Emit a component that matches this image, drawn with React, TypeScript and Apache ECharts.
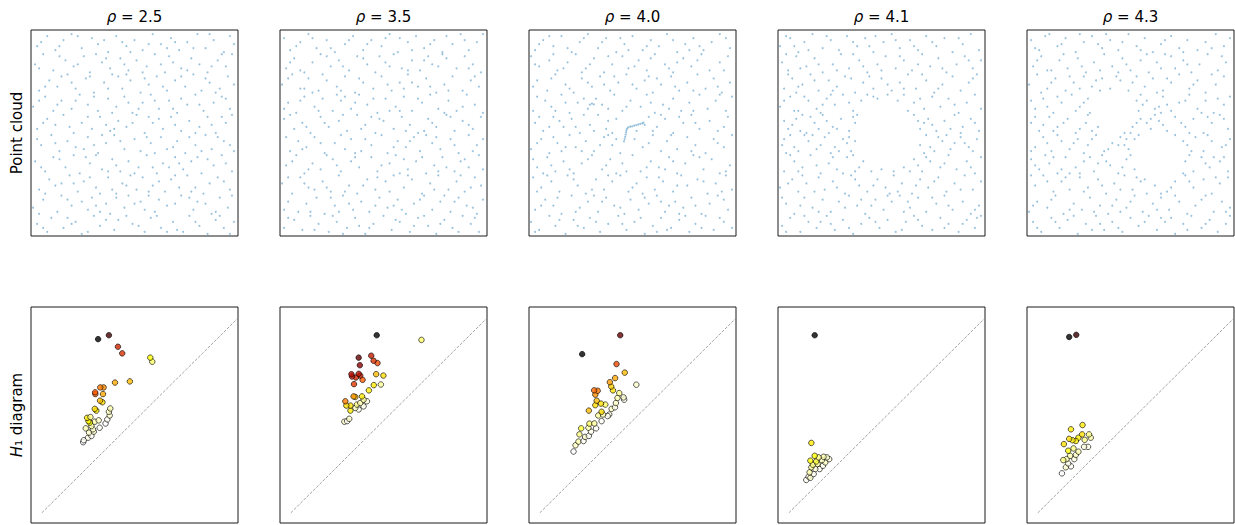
import React, { useEffect, useRef } from 'react';
import * as echarts from 'echarts';

const rhoValues = ['2.5', '3.5', '4.0', '4.1', '4.3'];

// Point clouds (coordinates 0-100)
const cloud25 = [
[2,5],[7,1],[9,8],[15,3],[21,6],[24,0],[30,9],[33,4],[40,2],[42,7],[49,5],[55,1],[58,8],[63,3],[69,6],[71,2],[77,9],[82,4],[86,0],[90,7],[94,3],[99,6],[46,9],[17,8],[74,1],
[0,13],[5,17],[12,11],[14,19],[19,14],[27,12],[29,18],[36,15],[38,10],[45,13],[47,19],[53,16],[60,11],[62,17],[66,14],[73,19],[79,12],[81,16],[88,10],[92,18],[96,13],[57,19],[24,16],[33,11],[85,15],
[3,22],[8,27],[11,24],[18,29],[22,21],[25,26],[31,23],[37,28],[41,20],[44,25],[51,22],[54,28],[59,24],[65,21],[68,27],[72,23],[76,29],[84,20],[87,25],[91,28],[97,22],[14,25],[48,29],[62,26],[80,23],
[1,36],[6,31],[10,38],[16,33],[20,39],[23,30],[28,35],[34,32],[39,37],[43,31],[47,36],[52,33],[56,39],[61,30],[64,35],[70,38],[74,32],[78,36],[83,30],[89,34],[93,39],[98,31],[26,38],[67,33],[86,37],
[4,44],[9,49],[13,41],[17,46],[21,43],[27,48],[32,40],[36,45],[40,49],[45,42],[50,47],[53,41],[58,45],[63,48],[66,42],[71,46],[75,40],[80,44],[85,49],[88,42],[94,46],[99,41],[30,44],[60,40],[77,48],
[2,52],[7,57],[11,54],[15,59],[20,50],[24,55],[29,52],[33,58],[38,51],[42,56],[46,53],[51,59],[55,50],[59,55],[64,52],[68,58],[73,51],[77,56],[82,53],[86,58],[90,50],[95,55],[98,59],[36,54],[62,57],
[0,63],[6,68],[10,61],[14,66],[19,62],[23,69],[27,64],[32,61],[37,67],[41,63],[45,68],[49,60],[54,65],[58,69],[62,62],[67,66],[71,60],[76,64],[80,69],[84,61],[89,65],[93,68],[97,62],[52,62],[73,67],
[3,71],[8,76],[12,73],[17,79],[21,72],[26,77],[30,70],[35,75],[39,79],[44,72],[48,76],[53,70],[57,74],[61,78],[66,71],[70,76],[75,73],[79,79],[83,71],[87,75],[92,72],[96,78],[99,74],[14,78],[42,78],
[1,84],[5,89],[10,81],[16,86],[20,83],[25,88],[28,80],[34,85],[38,82],[43,87],[47,81],[51,86],[56,83],[60,89],[65,80],[69,85],[73,82],[78,87],[82,84],[86,80],[91,86],[95,83],[98,89],[31,89],[63,84],
[2,93],[7,98],[11,91],[15,96],[19,99],[24,92],[29,97],[32,94],[37,90],[41,98],[46,93],[50,96],[54,91],[59,99],[63,94],[68,97],[72,91],[76,95],[81,99],[85,92],[89,96],[94,90],[97,98],[44,95],[66,92],
[5,3],[19,5],[36,7],[52,4],[66,1],[80,6],[92,9],[27,1],[61,9],[97,0],
[3,10],[17,17],[31,14],[41,18],[55,12],[70,15],[77,18],[90,11],[98,19],[50,15],
[6,20],[20,25],[28,28],[39,22],[57,21],[70,29],[78,21],[94,26],[46,24],[33,20],
[4,33],[13,37],[31,39],[41,34],[50,30],[59,33],[72,35],[81,38],[95,35],[37,31],
[2,47],[11,45],[25,42],[34,49],[43,46],[56,48],[69,43],[83,41],[91,48],[97,44],
[5,55],[18,53],[27,58],[40,52],[49,55],[57,58],[70,54],[80,50],[88,54],[93,58],
[3,66],[12,64],[21,66],[30,68],[39,60],[47,65],[60,66],[69,62],[82,64],[95,67],
[6,73],[19,75],[28,78],[37,72],[46,79],[55,77],[64,73],[73,78],[85,77],[90,70],
[3,82],[13,88],[22,84],[36,87],[45,84],[54,80],[67,88],[76,81],[88,83],[93,89],
[4,95],[13,93],[22,98],[35,96],[48,90],[57,94],[70,95],[79,92],[87,99],[99,94]
];

const cloud35 = [
[1,3],[6,7],[10,2],[14,9],[18,5],[23,1],[27,6],[32,3],[36,8],[41,0],[45,5],[50,9],[54,2],[58,6],[63,1],[67,8],[72,4],[76,0],[80,7],[84,3],[89,9],[93,5],[97,1],[38,4],[70,9],
[3,16],[8,11],[12,15],[17,18],[21,10],[26,14],[30,19],[35,12],[39,16],[43,11],[48,18],[52,13],[57,17],[61,10],[65,15],[70,19],[74,12],[78,16],[83,11],[87,18],[91,14],[96,10],[99,17],[55,14],[28,11],
[0,25],[5,20],[9,28],[13,23],[20,26],[24,21],[28,29],[33,24],[37,20],[42,27],[46,22],[51,26],[55,29],[60,23],[64,27],[69,20],[73,25],[77,29],[82,22],[86,26],[90,21],[95,28],[98,24],[16,22],[47,28],
[2,34],[7,39],[11,30],[15,35],[19,32],[25,37],[29,31],[34,36],[38,33],[44,38],[47,31],[53,35],[56,39],[62,32],[66,36],[71,30],[75,34],[79,38],[85,31],[88,36],[92,33],[97,39],[22,39],[60,37],[81,33],
[4,41],[8,46],[12,43],[16,48],[21,40],[26,45],[31,42],[34,47],[39,41],[44,44],[49,49],[52,40],[57,46],[61,43],[65,48],[68,41],[74,45],[78,42],[83,47],[87,40],[92,49],[96,44],[99,47],[36,40],[71,49],
[1,57],[6,52],[10,55],[14,50],[19,58],[23,53],[28,56],[32,51],[37,59],[41,54],[46,50],[50,56],[55,52],[59,58],[63,54],[67,50],[72,57],[76,53],[81,59],[85,51],[89,56],[94,52],[98,58],[44,58],[70,51],
[3,65],[7,60],[11,68],[16,63],[20,67],[25,61],[29,66],[34,62],[38,69],[42,64],[47,60],[51,67],[56,63],[60,68],[64,61],[69,65],[73,69],[77,62],[82,66],[86,61],[91,69],[95,64],[99,60],[31,68],[53,61],
[0,74],[5,79],[9,72],[13,77],[18,71],[22,76],[27,73],[31,78],[36,70],[40,75],[45,72],[49,78],[54,71],[58,75],[62,79],[67,73],[71,77],[76,70],[80,74],[84,78],[89,71],[93,76],[97,73],[15,70],[64,75],
[2,82],[6,87],[11,80],[15,85],[19,89],[24,83],[28,86],[33,81],[37,88],[42,84],[46,80],[51,85],[55,89],[59,82],[64,86],[68,81],[72,88],[77,83],[81,87],[86,82],[90,88],[94,84],[98,80],[48,88],[74,84],
[1,97],[4,91],[9,95],[13,99],[17,92],[22,96],[26,90],[31,94],[35,98],[40,91],[44,96],[49,93],[53,99],[57,90],[62,95],[66,98],[70,92],[75,96],[79,90],[84,94],[88,99],[92,91],[96,95],[99,99],[58,97],
[3,8],[16,2],[25,9],[43,3],[56,7],[65,4],[78,5],[87,1],[95,8],[30,0],
[1,12],[14,11],[24,18],[33,15],[46,14],[59,12],[68,17],[80,19],[94,13],[85,16],
[3,28],[11,25],[22,23],[31,21],[40,24],[53,21],[62,29],[75,22],[88,29],[93,23],
[5,36],[13,32],[27,34],[36,38],[49,34],[58,30],[69,38],[77,31],[90,37],[99,32],
[2,48],[10,42],[19,45],[29,49],[41,47],[55,43],[63,46],[76,48],[85,44],[94,41],
[4,59],[12,53],[21,55],[30,59],[39,52],[48,57],[61,51],[74,55],[83,58],[92,54],
[1,62],[9,66],[18,61],[27,69],[36,65],[45,67],[58,61],[67,67],[80,60],[89,63],
[3,77],[11,72],[20,79],[29,71],[38,77],[52,74],[60,72],[73,73],[82,71],[95,78],
[4,85],[9,81],[22,88],[30,83],[40,87],[53,83],[62,81],[70,86],[79,89],[92,82],
[7,93],[15,97],[24,92],[33,96],[42,94],[51,97],[64,91],[73,94],[81,98],[90,96]
];

const cloud40 = [
[0,6],[4,2],[9,9],[12,4],[17,0],[21,7],[26,3],[29,8],[34,1],[38,5],[43,9],[47,2],[51,6],[56,0],[60,4],[64,8],[69,3],[73,7],[78,1],[81,5],[86,9],[90,2],[95,6],[99,3],[62,1],
[2,12],[7,17],[11,14],[15,10],[20,19],[24,13],[28,16],[33,11],[37,18],[41,14],[46,10],[49,17],[53,12],[58,15],[62,19],[66,11],[71,16],[75,13],[79,18],[84,10],[88,15],[92,19],[97,12],[31,19],[68,14],
[1,28],[5,23],[10,26],[14,21],[18,29],[23,24],[27,20],[32,27],[36,22],[40,26],[44,29],[48,21],[52,25],[57,28],[61,22],[65,26],[70,21],[74,29],[77,24],[82,27],[87,20],[91,25],[96,29],[99,22],[55,20],
[3,33],[8,38],[12,31],[16,36],[21,30],[25,35],[30,39],[35,32],[39,37],[42,30],[50,39],[54,31],[59,36],[63,33],[68,38],[72,30],[76,35],[80,39],[85,32],[89,37],[93,30],[98,34],[45,35],[6,30],[66,32],
[0,42],[5,47],[9,40],[13,45],[19,49],[22,43],[27,46],[31,41],[36,48],[40,44],[44,40],[51,47],[55,43],[60,49],[64,41],[67,46],[72,42],[77,48],[81,44],[86,40],[90,47],[95,43],[99,49],[38,49],[15,41],
[2,55],[6,51],[11,58],[16,53],[20,57],[24,50],[29,54],[33,59],[37,52],[42,57],[52,51],[58,58],[62,53],[66,57],[70,50],[75,55],[79,59],[83,52],[88,56],[92,51],[97,58],[40,50],[26,59],[73,58],[60,51],
[1,61],[7,66],[10,63],[15,69],[19,60],[23,65],[28,62],[32,67],[35,64],[41,69],[45,61],[49,66],[54,63],[57,69],[61,60],[65,64],[70,67],[74,61],[78,65],[83,69],[87,62],[91,66],[96,61],[99,68],[29,64],[30,64.6],[31,64.2],
[3,76],[8,71],[12,79],[17,74],[21,70],[25,77],[30,73],[34,78],[39,71],[43,75],[47,79],[52,72],[56,76],[60,70],[64,74],[69,78],[73,71],[77,75],[82,79],[86,72],[90,77],[94,70],[98,75],[58,78],[36,74],
[0,88],[4,83],[9,86],[13,81],[18,85],[22,89],[27,82],[31,87],[36,80],[40,84],[45,88],[48,82],[53,86],[57,81],[61,89],[66,84],[70,80],[75,87],[79,83],[84,89],[88,81],[93,85],[97,88],[25,80],[72,85],
[2,91],[6,96],[11,93],[15,98],[20,90],[24,95],[28,99],[33,92],[37,97],[42,90],[46,94],[50,98],[55,91],[59,96],[63,93],[67,99],[72,90],[76,94],[80,97],[85,91],[89,95],[93,99],[98,92],[44,97],[78,91],
[2,1],[14,7],[23,4],[32,6],[45,5],[54,8],[67,2],[76,9],[84,3],[93,8],
[5,14],[13,18],[22,11],[35,16],[44,13],[56,18],[64,16],[73,10],[81,14],[95,17],
[3,21],[8,29],[21,27],[30,22],[38,29],[50,23],[63,28],[72,24],[85,26],[94,21],
[1,37],[10,34],[19,32],[28,37],[37,34],[47,31],[57,33],[70,36],[83,38],[96,31],
[3,45],[11,48],[17,43],[25,41],[34,44],[42,47],[58,45],[69,49],[79,41],[92,45],
[4,58],[9,53],[14,56],[22,53],[31,51],[38,56],[56,54],[64,59],[81,55],[95,53],
[3,68],[12,61],[17,65],[26,67],[38,62],[47,63],[59,65],[68,62],[80,61],[93,69],
[1,73],[10,77],[19,72],[28,75],[41,78],[50,74],[62,77],[71,73],[80,71],[92,73],
[2,84],[11,89],[16,82],[29,84],[38,88],[51,83],[59,87],[68,82],[82,86],[95,81],
[4,94],[9,98],[18,92],[26,97],[35,95],[48,91],[57,93],[70,96],[83,93],[96,97]
];

// The short dense curve in the middle of the rho = 4.0 cloud
const curve40 = [
[45.8,45.9],[46.1,47],[46.4,48.1],[46.6,49.2],[46.8,50.3],[47,51.3],[47.3,52.2],[47.9,52.8],[48.8,53.1],
[49.8,53.3],[50.8,53.6],[51.8,53.9],[52.8,54.2],[53.8,54.5],[54.8,54.8],[55.4,55.1]
];

const cloud41 = [
[1,4],[5,8],[10,1],[14,6],[18,3],[23,9],[27,2],[31,7],[36,0],[40,5],[44,8],[49,3],[53,7],[57,1],[62,6],[66,9],[70,4],[75,2],[79,8],[83,5],[88,1],[92,7],[96,3],[99,9],[20,6],
[3,15],[7,10],[12,18],[16,13],[21,17],[25,11],[29,16],[34,19],[38,14],[42,10],[47,17],[51,12],[55,16],[59,19],[64,13],[68,18],[72,11],[77,15],[81,19],[85,12],[90,16],[94,10],[98,14],[45,14],[61,11],
[0,23],[6,27],[9,21],[13,25],[19,28],[22,22],[26,26],[32,20],[35,29],[39,24],[43,21],[48,27],[52,23],[56,29],[60,25],[65,20],[69,27],[73,23],[78,28],[82,21],[86,25],[91,29],[95,22],[99,26],[54,20],
[2,31],[7,36],[11,33],[15,39],[20,30],[24,35],[28,32],[33,38],[37,31],[41,36],[45,31],[50,32],[56,31],[61,33],[66,37],[70,31],[74,36],[79,33],[83,39],[87,32],[92,36],[96,30],[99,38],[68,34],[36,39],
[1,44],[5,49],[9,41],[14,46],[18,42],[22,48],[27,43],[31,47],[35,41],[37,46],[69,44],[72,49],[76,41],[80,46],[84,42],[89,48],[93,43],[97,47],[12,49],[25,40],[33,45],[71,40],[86,45],[3,40],[78,48],
[4,52],[8,57],[13,50],[17,55],[21,59],[26,53],[30,57],[34,51],[37,55],[69,52],[73,57],[77,51],[81,56],[86,59],[90,53],[94,57],[98,51],[11,59],[24,50],[38,59],[66,59],[71,55],[89,50],[2,56],[19,52],
[0,63],[5,68],[9,61],[14,66],[18,62],[23,67],[27,64],[31,69],[36,61],[40,66],[43,69],[63,61],[66,65],[71,62],[75,68],[79,63],[83,67],[88,60],[92,65],[96,69],[99,62],[48,67],[58,66],[53,69],[20,60],
[2,72],[6,77],[11,74],[15,79],[19,71],[24,76],[28,73],[32,78],[37,70],[41,75],[46,72],[50,77],[55,71],[59,75],[63,79],[67,72],[72,76],[76,70],[80,74],[85,78],[89,71],[93,75],[97,79],[8,70],[44,78],
[1,85],[4,81],[8,88],[13,83],[17,87],[21,80],[26,84],[30,89],[34,82],[39,86],[43,80],[48,84],[52,88],[57,82],[61,86],[65,81],[70,89],[74,83],[78,87],[82,80],[87,84],[91,88],[95,82],[99,86],[36,89],
[0,93],[5,97],[9,90],[12,95],[16,99],[21,92],[25,96],[29,91],[33,98],[38,93],[42,97],[46,90],[51,95],[55,99],[59,92],[64,96],[68,91],[72,98],[77,93],[81,97],[85,90],[90,94],[94,99],[98,91],[47,98],
[3,1],[12,9],[25,5],[34,3],[47,6],[60,2],[68,7],[81,3],[90,5],[97,8],
[1,18],[10,14],[19,11],[32,13],[40,17],[53,19],[63,16],[75,18],[83,14],[96,12],
[4,25],[11,29],[17,21],[28,23],[37,27],[46,24],[58,21],[67,24],[76,26],[89,22],
[5,39],[9,31],[18,34],[26,38],[31,30],[39,33],[64,31],[72,38],[81,35],[94,33],
[2,47],[7,43],[16,49],[20,44],[29,41],[34,48],[74,43],[82,49],[91,45],[95,41],
[6,54],[10,51],[15,58],[23,56],[28,52],[36,58],[68,56],[75,54],[84,52],[96,55],
[2,66],[7,61],[12,68],[21,64],[25,69],[34,65],[46,68],[61,69],[69,67],[86,64],
[4,79],[9,73],[17,76],[26,71],[35,77],[53,74],[61,72],[70,79],[78,72],[95,77],
[3,89],[10,82],[19,84],[28,81],[41,83],[50,81],[59,88],[68,84],[80,82],[93,86],
[3,98],[7,93],[14,91],[23,98],[36,95],[44,93],[57,96],[66,93],[75,95],[88,97]
];

const cloud43 = [
[2,6],[6,1],[11,8],[15,3],[19,7],[24,0],[28,5],[33,9],[37,2],[41,6],[46,1],[50,8],[54,4],[59,9],[63,2],[67,6],[72,0],[76,5],[80,9],[85,3],[89,7],[93,1],[97,5],[31,2],[70,8],
[0,11],[4,16],[9,13],[13,19],[17,10],[22,15],[26,12],[30,18],[35,14],[39,10],[43,17],[48,13],[52,19],[56,11],[61,15],[65,18],[69,12],[74,16],[78,10],[82,14],[87,19],[91,11],[95,16],[99,13],[45,11],
[3,24],[7,29],[12,21],[16,26],[20,22],[25,28],[29,23],[34,27],[38,20],[42,25],[47,29],[51,22],[55,26],[58,20],[62,24],[68,21],[72,26],[77,29],[81,23],[86,27],[90,20],[94,25],[98,28],[57,27],[65,20],
[1,37],[5,32],[10,35],[14,30],[18,38],[23,33],[27,36],[32,31],[36,39],[40,34],[44,30],[48,37],[52,32],[77,36],[81,31],[85,38],[89,33],[94,36],[98,31],[20,30],[50,39],[76,30],[34,35],[8,39],[91,38],
[3,43],[7,48],[11,41],[16,46],[20,42],[24,47],[29,44],[33,49],[37,41],[41,45],[45,48],[49,42],[52,47],[78,44],[82,48],[86,41],[90,46],[95,43],[99,47],[27,40],[72,49],[54,49],[76,46],[48,47],[44,44],
[1,55],[5,51],[10,58],[14,53],[19,57],[23,50],[28,55],[51,53],[55,57],[60,52],[64,56],[68,51],[72,58],[77,53],[81,57],[86,50],[90,55],[94,59],[98,52],[31,51],[47,50],[62,59],[75,55],[7,54],[34,53],[50,50],[58,55],
[3,62],[7,67],[12,60],[16,65],[21,69],[25,63],[29,67],[54,61],[58,66],[62,62],[66,68],[70,61],[74,65],[79,69],[83,62],[87,66],[91,60],[96,64],[99,68],[30,60],[55,69],[68,64],[53,66],[60,57],[65,60],
[0,74],[4,79],[9,72],[13,77],[18,71],[22,75],[27,78],[31,73],[36,77],[40,72],[45,76],[49,71],[53,78],[57,73],[61,77],[66,71],[70,75],[74,79],[79,72],[83,76],[87,70],[92,74],[96,78],[63,70],[35,71],
[2,83],[6,88],[11,81],[15,86],[19,82],[24,87],[28,80],[32,85],[37,89],[41,83],[46,87],[50,81],[55,86],[59,80],[63,85],[67,89],[72,82],[76,86],[80,80],[84,84],[88,89],[93,81],[97,85],[44,80],[70,88],
[1,96],[5,91],[10,99],[14,93],[18,97],[23,90],[27,95],[31,98],[36,92],[40,96],[44,91],[49,99],[53,93],[57,97],[61,90],[65,94],[70,98],[74,92],[78,96],[83,91],[87,95],[92,99],[96,93],[99,97],[38,99],
[4,3],[13,6],[22,9],[35,5],[44,3],[57,6],[65,8],[78,2],[87,5],[99,9],
[2,14],[11,17],[20,12],[32,11],[41,14],[50,16],[63,12],[72,19],[85,17],[97,11],
[1,29],[9,26],[18,28],[27,21],[36,24],[45,22],[53,28],[70,23],[79,26],[92,28],
[3,34],[12,38],[16,32],[25,30],[30,38],[38,36],[46,33],[79,39],[87,35],[96,38],
[1,41],[9,45],[14,49],[22,45],[31,47],[39,42],[47,44],[80,41],[88,49],[97,44],
[3,58],[12,51],[17,55],[25,52],[29,59],[53,55],[66,54],[79,50],[88,58],[96,57],
[1,66],[9,63],[14,68],[23,61],[27,65],[56,64],[64,63],[77,66],[85,60],[93,67],
[6,70],[11,75],[20,78],[25,72],[33,76],[43,78],[51,75],[68,77],[81,74],[90,79],
[4,86],[9,81],[17,89],[26,83],[35,81],[48,84],[58,89],[65,82],[78,84],[95,88],
[3,92],[8,98],[16,94],[25,99],[34,94],[46,95],[55,91],[67,96],[76,90],[90,92]
];

// H1 persistence diagrams: [birth, death, colour value (0 = white ... 1 = black)]
const h1_25 = [
[0.211,0.363,0.0],[0.214,0.373,0.01],[0.236,0.386,0.02],[0.253,0.395,0.01],[0.241,0.412,0.05],[0.265,0.417,0.05],[0.261,0.429,0.05],
[0.295,0.437,0.01],[0.253,0.446,0.08],[0.224,0.434,0.08],[0.325,0.459,0.0],[0.334,0.480,0.01],[0.270,0.468,0.08],[0.290,0.475,0.06],
[0.245,0.463,0.25],[0.238,0.471,0.27],[0.231,0.488,0.28],[0.248,0.492,0.12],[0.346,0.500,0.05],[0.342,0.519,0.06],[0.349,0.536,0.08],
[0.278,0.525,0.28],[0.270,0.534,0.3],[0.309,0.568,0.3],[0.297,0.576,0.35],[0.312,0.610,0.38],[0.273,0.610,0.48],[0.272,0.619,0.5],
[0.315,0.644,0.42],[0.298,0.644,0.45],[0.449,0.675,0.35],[0.373,0.669,0.38],[0.563,0.776,0.15],[0.553,0.797,0.25],[0.410,0.819,0.62],
[0.388,0.853,0.65],[0.342,0.912,0.9],[0.287,0.892,1.0]
];

const h1_35 = [
[0.273,0.468,0.05],[0.287,0.471,0.01],[0.298,0.483,0.05],[0.346,0.531,0.01],[0.304,0.525,0.28],[0.329,0.539,0.06],[0.371,0.547,0.02],
[0.337,0.556,0.12],[0.354,0.564,0.08],[0.388,0.573,0.03],[0.371,0.581,0.1],[0.363,0.598,0.28],[0.304,0.551,0.3],[0.283,0.551,0.3],
[0.278,0.573,0.45],[0.329,0.595,0.35],[0.320,0.598,0.4],[0.398,0.629,0.28],[0.459,0.659,0.1],[0.423,0.656,0.28],[0.472,0.705,0.3],
[0.435,0.712,0.35],[0.366,0.683,0.5],[0.322,0.661,0.6],[0.354,0.705,0.66],[0.332,0.695,0.65],[0.346,0.714,0.7],[0.312,0.700,0.68],
[0.309,0.712,0.72],[0.442,0.769,0.55],[0.422,0.781,0.62],[0.410,0.807,0.68],[0.352,0.758,0.8],[0.346,0.797,0.85],[0.666,0.888,0.15],
[0.438,0.912,1.0]
];

const h1_40 = [
[0.172,0.315,0.0],[0.182,0.347,0.06],[0.197,0.366,0.08],[0.223,0.369,0.01],[0.231,0.390,0.05],[0.250,0.395,0.01],[0.202,0.403,0.12],
[0.211,0.434,0.2],[0.261,0.417,0.02],[0.287,0.434,0.01],[0.248,0.437,0.08],[0.253,0.458,0.15],[0.278,0.459,0.1],[0.315,0.471,0.01],
[0.354,0.505,0.03],[0.346,0.497,0.01],[0.298,0.500,0.1],[0.322,0.505,0.08],[0.315,0.519,0.3],[0.366,0.534,0.06],[0.383,0.542,0.02],
[0.388,0.564,0.06],[0.430,0.581,0.01],[0.427,0.593,0.05],[0.396,0.590,0.08],[0.405,0.615,0.12],[0.250,0.525,0.35],[0.334,0.556,0.15],
[0.312,0.561,0.3],[0.283,0.553,0.3],[0.290,0.576,0.35],[0.283,0.607,0.42],[0.295,0.627,0.45],[0.277,0.629,0.48],[0.492,0.658,0.05],
[0.373,0.629,0.3],[0.364,0.649,0.32],[0.357,0.671,0.4],[0.384,0.692,0.38],[0.433,0.720,0.35],[0.391,0.764,0.55],[0.216,0.815,1.0],
[0.410,0.912,0.85]
];

const h1_41 = [
[0.089,0.169,0.01],[0.101,0.186,0.02],[0.110,0.180,0.05],[0.127,0.200,0.01],[0.106,0.208,0.08],[0.157,0.225,0.01],[0.135,0.225,0.03],
[0.115,0.234,0.1],[0.174,0.242,0.02],[0.123,0.247,0.12],[0.147,0.251,0.1],[0.186,0.259,0.06],[0.206,0.276,0.03],[0.194,0.285,0.05],
[0.169,0.271,0.06],[0.177,0.288,0.08],[0.140,0.264,0.2],[0.110,0.268,0.25],[0.152,0.285,0.12],[0.132,0.293,0.25],[0.115,0.359,0.28],
[0.132,0.912,1.0]
];

const h1_43 = [
[0.123,0.203,0.0],[0.143,0.234,0.05],[0.169,0.239,0.01],[0.155,0.254,0.02],[0.186,0.276,0.03],[0.147,0.276,0.08],[0.130,0.271,0.12],
[0.165,0.293,0.08],[0.194,0.298,0.06],[0.207,0.314,0.08],[0.182,0.331,0.12],[0.155,0.319,0.25],[0.256,0.339,0.02],[0.236,0.339,0.03],
[0.133,0.353,0.3],[0.239,0.375,0.12],[0.207,0.386,0.27],[0.194,0.369,0.28],[0.177,0.373,0.28],[0.160,0.380,0.3],[0.270,0.386,0.08],
[0.261,0.403,0.12],[0.226,0.403,0.3],[0.169,0.429,0.28],[0.228,0.451,0.28],[0.196,0.914,0.92],[0.160,0.903,1.0]
];

const clouds = [cloud25, cloud35, cloud40.concat(curve40), cloud41, cloud43];
const diagrams = [h1_25, h1_35, h1_40, h1_41, h1_43];
const diagonal = [[0, 0], [1, 1]];

export default function App() {
  const ref = useRef<HTMLDivElement>(null);
  useEffect(() => {
    document.body.style.margin = '0';
    const chart = echarts.init(ref.current as HTMLDivElement, null, { renderer: 'svg' });
    const colLeft = [31, 280, 529, 778, 1027];
    const W = 207;
    const font = 'DejaVu Sans';
    const grids: any[] = [];
    const xAxes: any[] = [];
    const yAxes: any[] = [];
    const series: any[] = [];
    const diagSeries: number[] = [];
    const graphics: any[] = [];

    colLeft.forEach((left) => {
      grids.push({ left, top: 30, width: W, height: 206, show: true, borderColor: '#1a1a1a', borderWidth: 1, backgroundColor: 'transparent', containLabel: false });
    });
    colLeft.forEach((left) => {
      grids.push({ left, top: 307, width: W, height: 216, show: true, borderColor: '#1a1a1a', borderWidth: 1, backgroundColor: 'transparent', containLabel: false });
    });
    for (let g = 0; g < 10; g++) {
      const isTop = g < 5;
      xAxes.push({ gridIndex: g, type: 'value', min: isTop ? -1 : -0.055, max: isTop ? 101 : 1, show: false, splitLine: { show: false } });
      yAxes.push({ gridIndex: g, type: 'value', min: isTop ? -1 : -0.052, max: isTop ? 101 : 1.057, show: false, splitLine: { show: false } });
    }

    clouds.forEach((pts, i) => {
      series.push({
        type: 'scatter', xAxisIndex: i, yAxisIndex: i, data: pts,
        symbolSize: 2, itemStyle: { color: '#1f77b4', opacity: 0.45 }, silent: true,
      });
    });
    diagrams.forEach((pts, i) => {
      series.push({
        type: 'line', xAxisIndex: 5 + i, yAxisIndex: 5 + i, data: diagonal, symbol: 'none', silent: true,
        lineStyle: { color: '#8c8c8c', width: 0.8, type: [3, 1.5] }, z: 1,
      });
      diagSeries.push(series.length);
      series.push({
        type: 'scatter', xAxisIndex: 5 + i, yAxisIndex: 5 + i, data: pts,
        symbolSize: 5.5, itemStyle: { borderColor: '#000', borderWidth: 0.8, opacity: 0.8 }, z: 3, silent: true,
      });
    });

    colLeft.forEach((left, i) => {
      graphics.push({
        type: 'text', x: left + W / 2, y: 17,
        style: {
          text: '{i|ρ} = ' + rhoValues[i],
          rich: { i: { fontStyle: 'italic', fontFamily: font, fontSize: 15, fill: '#000' } },
          fontFamily: font, fontSize: 15, fill: '#000',
          align: 'center', verticalAlign: 'middle', textAlign: 'center', textVerticalAlign: 'middle',
        },
      });
    });
    graphics.push({
      type: 'text', x: 17, y: 133, rotation: Math.PI / 2,
      style: { text: 'Point cloud', fontFamily: font, fontSize: 15, fill: '#000', align: 'center', verticalAlign: 'middle', textAlign: 'center', textVerticalAlign: 'middle' },
    });
    graphics.push({
      type: 'text', x: 17, y: 415, rotation: Math.PI / 2,
      style: {
        text: '{i|H}₁ diagram',
        rich: { i: { fontStyle: 'italic', fontFamily: font, fontSize: 15, fill: '#000' } },
        fontFamily: font, fontSize: 15, fill: '#000', align: 'center', verticalAlign: 'middle', textAlign: 'center', textVerticalAlign: 'middle',
      },
    });

    chart.setOption({
      animation: false,
      backgroundColor: '#ffffff',
      grid: grids,
      xAxis: xAxes,
      yAxis: yAxes,
      visualMap: {
        type: 'continuous', show: false, seriesIndex: diagSeries, dimension: 2, min: 0, max: 1,
        inRange: { color: ['#ffffff', '#ffff04', '#ff5a00', '#ad0000', '#000000'] },
      },
      series,
      graphic: graphics,
    });
    return () => chart.dispose();
  }, []);
  return <div ref={ref} style={{ width: 1235, height: 525 }} />;
}
